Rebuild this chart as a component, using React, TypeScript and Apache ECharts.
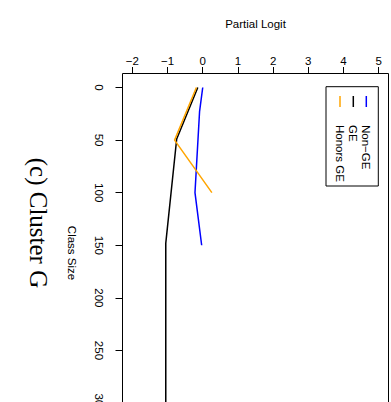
import React, { useEffect, useRef } from "react";
import * as echarts from "echarts";

const logitTicks = [-2, -1, 0, 1, 2, 3, 4, 5];
const sizeStep = 50;

const seriesNames = ["Non\u2212GE", "GE", "Honors GE"];
const seriesColors = ["#0000FF", "#000000", "#FFA500"];

const nonGeSize = [0, 23, 100, 150];
const nonGeLogit = [0.0, -0.09, -0.22, -0.03];

const geSize = [0, 49, 148, 330];
const geLogit = [-0.14, -0.74, -1.05, -1.05];

const honorsSize = [0, 50, 100];
const honorsLogit = [-0.18, -0.8, 0.26];

const xTitle = "Partial Logit";
const yTitle = "Class Size";
const chartTitle = "(c) Cluster G";

const fmt = (v: number) => (v < 0 ? "\u2212" + Math.abs(v) : String(v));

export default function App() {
  const ref = useRef<HTMLDivElement>(null);
  useEffect(() => {
    if (!ref.current) return;
    const chart = echarts.init(ref.current, null, { renderer: "svg" });
    const pair = (xs: number[], ys: number[]) => xs.map((x, i) => [x, ys[i]]);
    const sets = [
      pair(nonGeLogit, nonGeSize),
      pair(geLogit, geSize),
      pair(honorsLogit, honorsSize),
    ];
    const font = "Liberation Sans";
    const legendX = [366.3, 353.3, 340];
    const legendGraphics: any[] = [
      {
        type: "rect",
        shape: { x: 326, y: 86.7, width: 52.3, height: 99.3 },
        style: { fill: "none", stroke: "#000", lineWidth: 1 },
      },
    ];
    seriesNames.forEach((n, i) => {
      legendGraphics.push({
        type: "line",
        shape: { x1: legendX[i], y1: 96, x2: legendX[i], y2: 107 },
        style: { stroke: seriesColors[i], lineWidth: 1.5 },
      });
      legendGraphics.push({
        type: "text",
        x: legendX[i],
        y: 125,
        rotation: -Math.PI / 2,
        style: {
          text: n,
          fontFamily: font,
          fontSize: 11.5,
          fill: "#000",
          align: "left",
          verticalAlign: "middle",
        },
      });
    });
    const gridLeft = 122.5;
    const gridTop = 87.5;
    const gridW = 266;
    const gridH = 361;
    const boxTop = 73.5;
    chart.setOption({
      animation: false,
      grid: {
        left: gridLeft,
        top: gridTop,
        width: gridW,
        height: gridH,
        show: false,
      },
      xAxis: {
        type: "value",
        position: "top",
        offset: gridTop - boxTop,
        min: -2.28,
        max: 5.28,
        splitLine: { show: false },
        axisLine: { show: false, onZero: false },
        axisTick: {
          show: true,
          customValues: logitTicks,
          length: 6.5,
          inside: false,
          lineStyle: { color: "#000", width: 1 },
        },
        axisLabel: {
          customValues: logitTicks,
          formatter: (v: number) => fmt(v),
          fontFamily: font,
          fontSize: 11.5,
          color: "#000",
          margin: 13,
          verticalAlign: "middle",
          align: "center",
        },
      },
      yAxis: {
        type: "value",
        position: "left",
        inverse: true,
        min: 0,
        max: 343.2,
        interval: sizeStep,
        splitLine: { show: false },
        axisLine: { show: true, onZero: false, lineStyle: { color: "#000", width: 1 } },
        axisTick: {
          show: true,
          length: 7,
          inside: false,
          lineStyle: { color: "#000", width: 1 },
        },
        axisLabel: {
          rotate: -90,
          showMaxLabel: false,
          fontFamily: font,
          fontSize: 11.5,
          color: "#000",
          margin: 23.5,
          align: "center",
          verticalAlign: "middle",
        },
      },
      graphic: [
        {
          type: "rect",
          shape: { x: gridLeft, y: boxTop, width: gridW, height: gridTop + gridH - boxTop },
          style: { fill: "none", stroke: "#000", lineWidth: 1 },
        },
        {
          type: "text",
          x: 255.5,
          y: 24,
          style: {
            text: xTitle,
            fontFamily: font,
            fontSize: 11.5,
            fill: "#000",
            align: "center",
            verticalAlign: "middle",
          },
        },
        {
          type: "text",
          x: 72,
          y: 253,
          rotation: -Math.PI / 2,
          style: {
            text: yTitle,
            fontFamily: font,
            fontSize: 11.5,
            fill: "#000",
            align: "center",
            verticalAlign: "middle",
          },
        },
        {
          type: "text",
          x: 38,
          y: 223,
          rotation: -Math.PI / 2,
          style: {
            text: chartTitle,
            fontFamily: "Liberation Serif",
            fontSize: 25,
            fill: "#000",
            align: "center",
            verticalAlign: "middle",
          },
        },
        ...legendGraphics,
      ],
      series: sets.map((d, i) => ({
        type: "line",
        name: seriesNames[i],
        data: d,
        showSymbol: false,
        symbol: "none",
        lineStyle: { color: seriesColors[i], width: 1.5 },
      })),
    });
    return () => chart.dispose();
  }, []);
  return (
    <div
      ref={ref}
      style={{ position: "absolute", left: 0, top: 0, width: 391, height: 460 }}
    />
  );
}
